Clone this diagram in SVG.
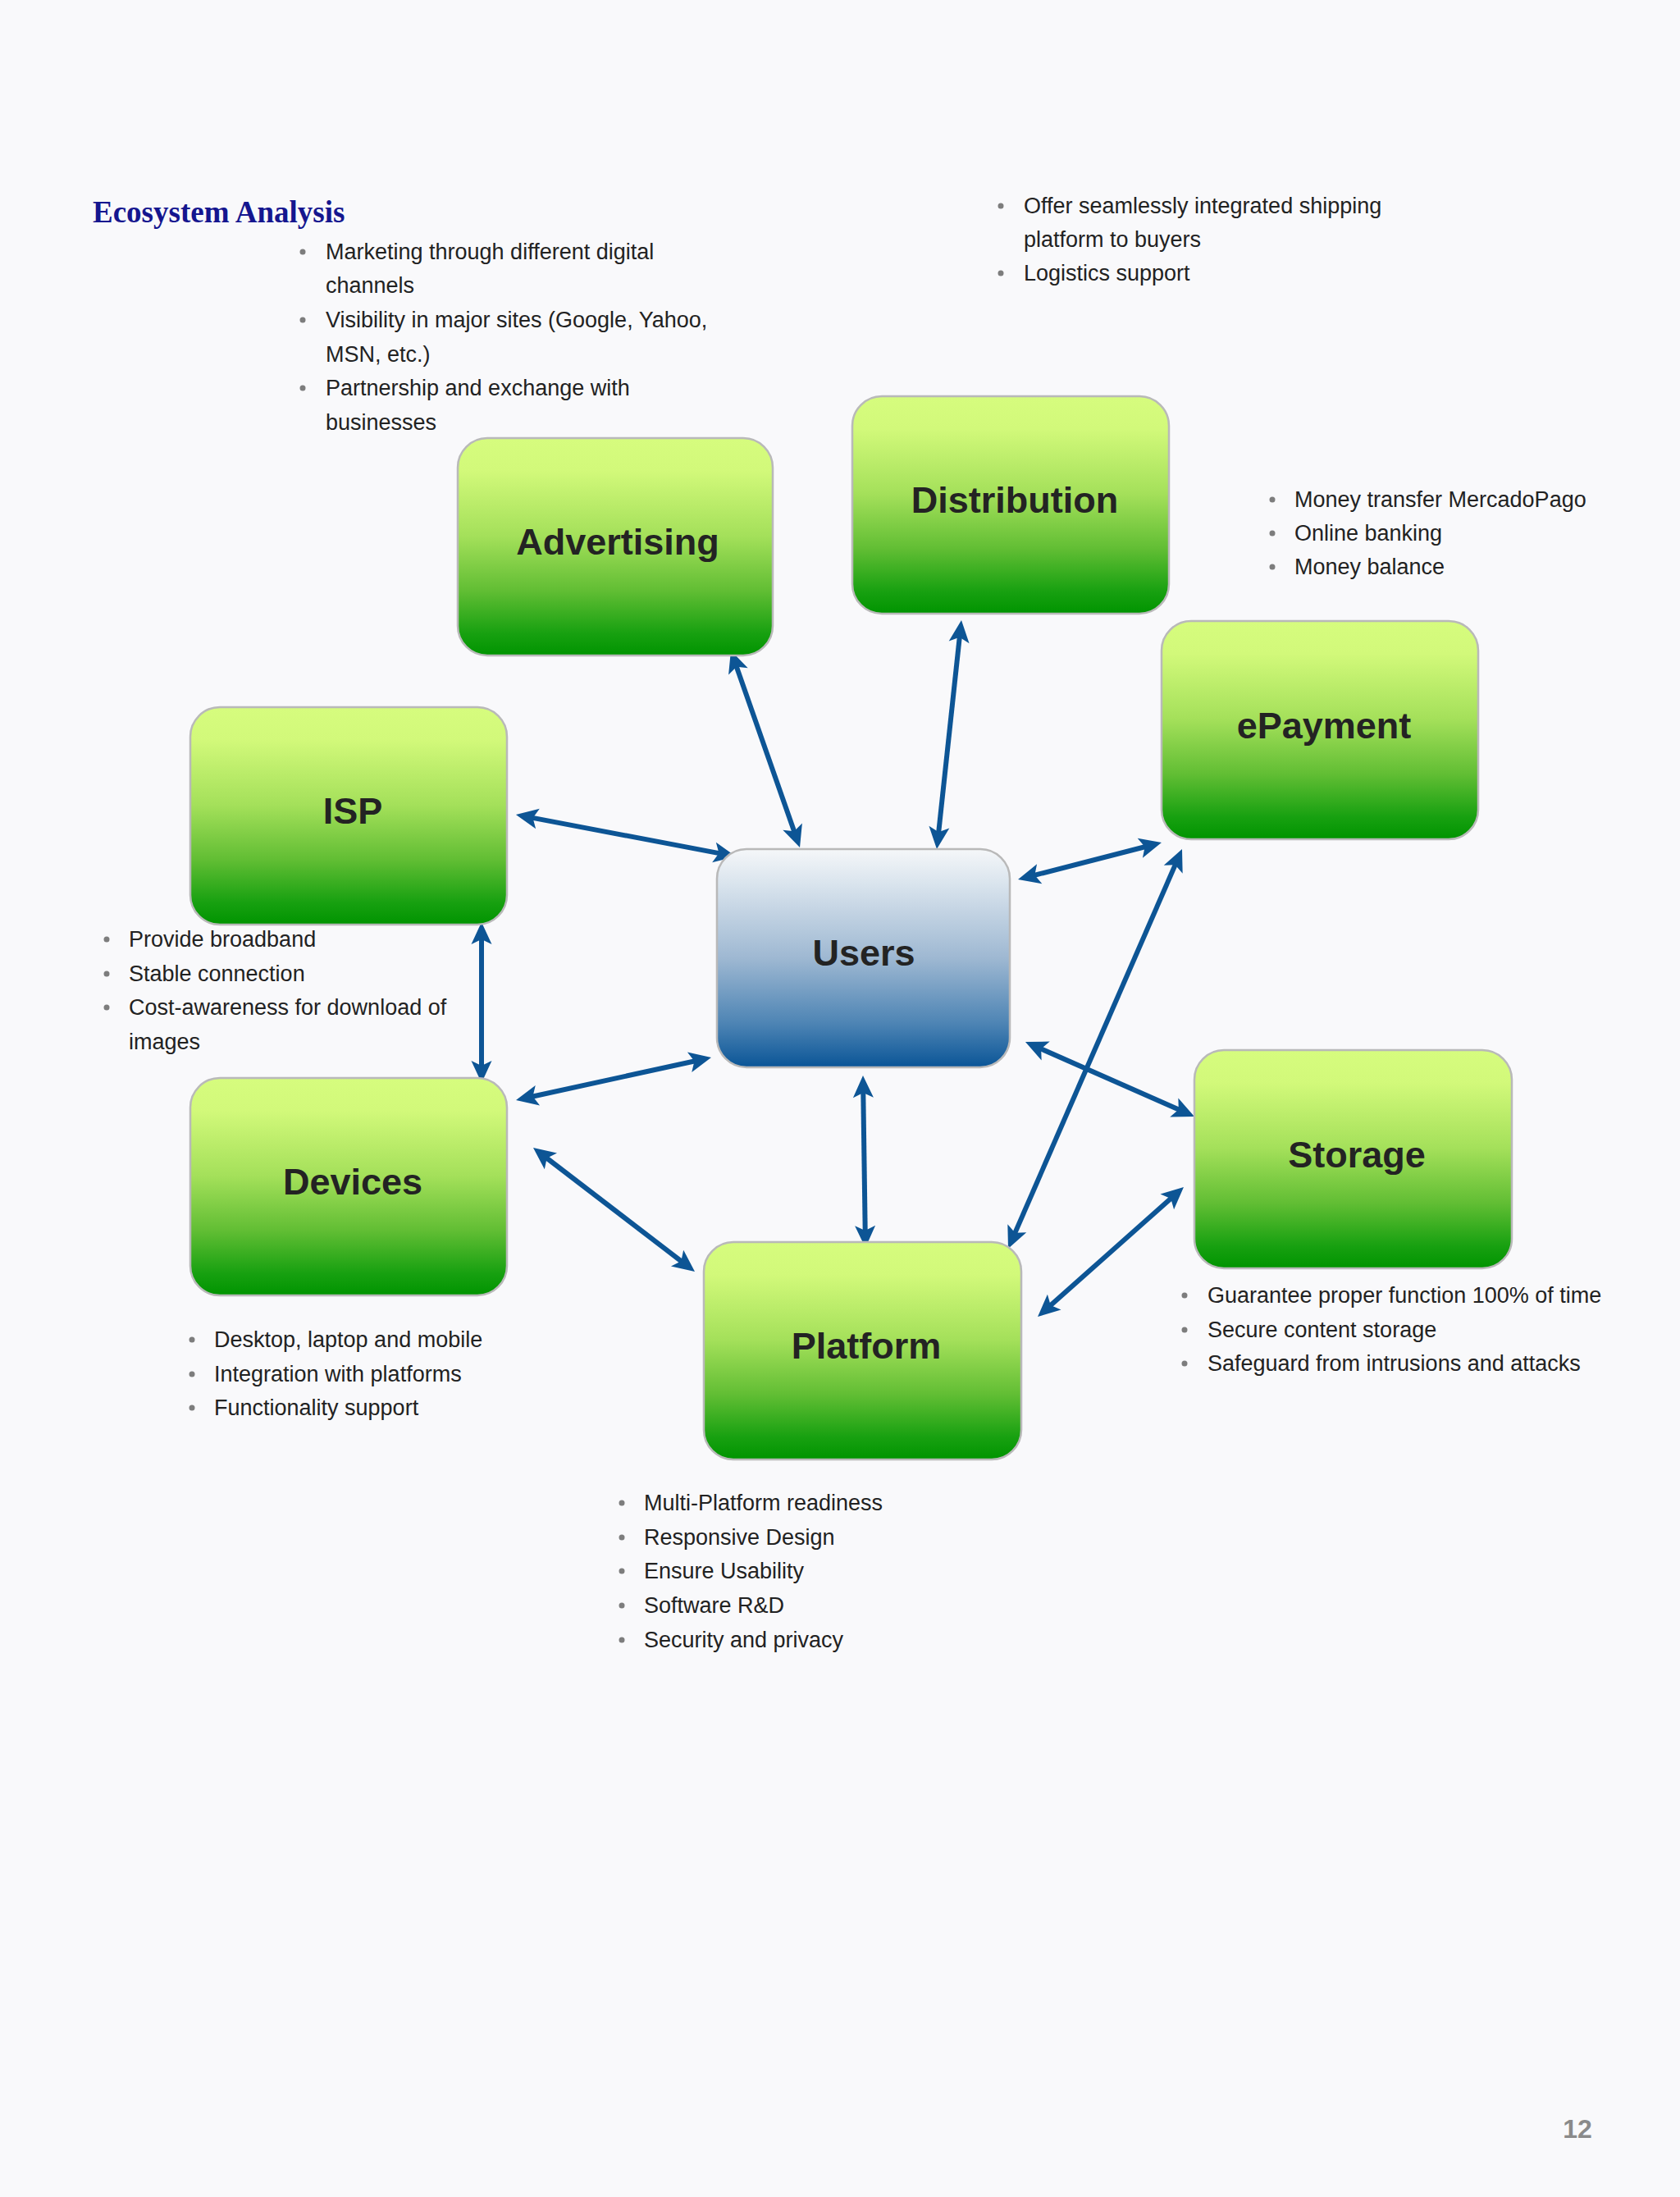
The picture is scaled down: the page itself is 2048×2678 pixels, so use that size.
<svg xmlns="http://www.w3.org/2000/svg" width="2048" height="2678" viewBox="0 0 2048 2678">
<defs>
<linearGradient id="gGreen" x1="0" y1="0" x2="0" y2="1">
<stop offset="0" stop-color="#d6fc7e"/>
<stop offset="0.15" stop-color="#d2f97a"/>
<stop offset="0.45" stop-color="#a4e05a"/>
<stop offset="0.7" stop-color="#62be34"/>
<stop offset="0.9" stop-color="#17a010"/>
<stop offset="1" stop-color="#009400"/>
</linearGradient>
<linearGradient id="gBlue" x1="0" y1="0" x2="0" y2="1">
<stop offset="0" stop-color="#f5f7f9"/>
<stop offset="0.15" stop-color="#dbe5ee"/>
<stop offset="0.5" stop-color="#9eb8d2"/>
<stop offset="0.8" stop-color="#4d84b4"/>
<stop offset="1" stop-color="#0a5597"/>
</linearGradient>
<marker id="ah" markerUnits="userSpaceOnUse" orient="auto-start-reverse" refX="-14" refY="0" markerWidth="1" markerHeight="1" overflow="visible">
<path d="M0,0 L-27,-12.5 L-21,0 L-27,12.5 Z" fill="#0d5595"/>
</marker>
<style>
.box{stroke:#b9b9b9;stroke-width:2.5}
.green{fill:url(#gGreen)}
.blue{fill:url(#gBlue)}
.lbl{font-family:"Liberation Sans",Arial,sans-serif;font-weight:bold;font-size:45px;fill:#232323;text-anchor:middle}
.txt{font-family:"Liberation Sans",Arial,sans-serif;font-size:27px;fill:#222222}
.dot{fill:#7d7d7d}
.con line{stroke:#0d5595;stroke-width:6;marker-start:url(#ah);marker-end:url(#ah)}
</style>
</defs>
<rect x="0" y="0" width="2048" height="2678" fill="#f9f9fb"/>
<text x="113" y="271" font-family="'Liberation Serif','Times New Roman',serif" font-weight="bold" font-size="37" fill="#15168f">Ecosystem Analysis</text>

<g id="connectors" class="con">
<line x1="895.6" y1="806.2" x2="970.4" y2="1019.8"/>
<line x1="1170.5" y1="769.9" x2="1143.5" y2="1021.1"/>
<line x1="1254.6" y1="1068.5" x2="1402.4" y2="1030.5"/>
<line x1="1435.4" y1="1047.9" x2="1234.6" y2="1509.1"/>
<line x1="1262.8" y1="1275.7" x2="1443.2" y2="1355.3"/>
<line x1="1052.2" y1="1325" x2="1054.8" y2="1507"/>
<line x1="1432.5" y1="1456.3" x2="1275.5" y2="1595.7"/>
<line x1="642.7" y1="995.6" x2="883.3" y2="1041.4"/>
<line x1="587" y1="1138" x2="587" y2="1306"/>
<line x1="642.7" y1="1338" x2="853.3" y2="1292"/>
<line x1="661.1" y1="1407.5" x2="835.9" y2="1541.5"/>
</g>

<g id="advertising">
<rect class="box green" x="558" y="534" width="384" height="265" rx="36"/>
<text class="lbl" x="753" y="676">Advertising</text>
<circle class="dot" cx="369" cy="307" r="3.5"/>
<circle class="dot" cx="369" cy="390" r="3.5"/>
<circle class="dot" cx="369" cy="473" r="3.5"/>
<text class="txt" x="397" y="316">Marketing through different digital</text>
<text class="txt" x="397" y="357">channels</text>
<text class="txt" x="397" y="399">Visibility in major sites (Google, Yahoo,</text>
<text class="txt" x="397" y="441">MSN, etc.)</text>
<text class="txt" x="397" y="482">Partnership and exchange with</text>
<text class="txt" x="397" y="524">businesses</text>
</g>

<g id="distribution">
<rect class="box green" x="1039" y="483" width="386" height="265" rx="36"/>
<text class="lbl" x="1237" y="625">Distribution</text>
<circle class="dot" cx="1220" cy="251" r="3.5"/>
<circle class="dot" cx="1220" cy="333" r="3.5"/>
<text class="txt" x="1248" y="260">Offer seamlessly integrated shipping</text>
<text class="txt" x="1248" y="301">platform to buyers</text>
<text class="txt" x="1248" y="342">Logistics support</text>
</g>

<g id="epayment">
<rect class="box green" x="1416" y="757" width="386" height="266" rx="36"/>
<text class="lbl" x="1614" y="900">ePayment</text>
<circle class="dot" cx="1551" cy="609" r="3.5"/>
<circle class="dot" cx="1551" cy="650" r="3.5"/>
<circle class="dot" cx="1551" cy="691" r="3.5"/>
<text class="txt" x="1578" y="618">Money transfer MercadoPago</text>
<text class="txt" x="1578" y="659">Online banking</text>
<text class="txt" x="1578" y="700">Money balance</text>
</g>

<g id="isp">
<rect class="box green" x="232" y="862" width="386" height="265" rx="36"/>
<text class="lbl" x="430" y="1004">ISP</text>
<circle class="dot" cx="130" cy="1145" r="3.5"/>
<circle class="dot" cx="130" cy="1187" r="3.5"/>
<circle class="dot" cx="130" cy="1228" r="3.5"/>
<text class="txt" x="157" y="1154">Provide broadband</text>
<text class="txt" x="157" y="1196">Stable connection</text>
<text class="txt" x="157" y="1237">Cost-awareness for download of</text>
<text class="txt" x="157" y="1279">images</text>
</g>

<g id="users">
<rect class="box blue" x="874" y="1035" width="357" height="266" rx="36"/>
<text class="lbl" x="1053" y="1177">Users</text>
</g>

<g id="devices">
<rect class="box green" x="232" y="1314" width="386" height="265" rx="36"/>
<text class="lbl" x="430" y="1456">Devices</text>
<circle class="dot" cx="234" cy="1633" r="3.5"/>
<circle class="dot" cx="234" cy="1675" r="3.5"/>
<circle class="dot" cx="234" cy="1716" r="3.5"/>
<text class="txt" x="261" y="1642">Desktop, laptop and mobile</text>
<text class="txt" x="261" y="1684">Integration with platforms</text>
<text class="txt" x="261" y="1725">Functionality support</text>
</g>

<g id="storage">
<rect class="box green" x="1456" y="1280" width="387" height="266" rx="36"/>
<text class="lbl" x="1654" y="1423">Storage</text>
<circle class="dot" cx="1444" cy="1579" r="3.5"/>
<circle class="dot" cx="1444" cy="1621" r="3.5"/>
<circle class="dot" cx="1444" cy="1662" r="3.5"/>
<text class="txt" x="1472" y="1588">Guarantee proper function 100% of time</text>
<text class="txt" x="1472" y="1630">Secure content storage</text>
<text class="txt" x="1472" y="1671">Safeguard from intrusions and attacks</text>
</g>

<g id="platform">
<rect class="box green" x="858" y="1514" width="387" height="265" rx="36"/>
<text class="lbl" x="1056" y="1656">Platform</text>
<circle class="dot" cx="758" cy="1832" r="3.5"/>
<circle class="dot" cx="758" cy="1874" r="3.5"/>
<circle class="dot" cx="758" cy="1915" r="3.5"/>
<circle class="dot" cx="758" cy="1957" r="3.5"/>
<circle class="dot" cx="758" cy="1999" r="3.5"/>
<text class="txt" x="785" y="1841">Multi-Platform readiness</text>
<text class="txt" x="785" y="1883">Responsive Design</text>
<text class="txt" x="785" y="1924">Ensure Usability</text>
<text class="txt" x="785" y="1966">Software R&amp;D</text>
<text class="txt" x="785" y="2008">Security and privacy</text>
</g>

<text x="1923" y="2606" font-family="'Liberation Sans',Arial,sans-serif" font-weight="bold" font-size="32" fill="#8a8a8a" text-anchor="middle">12</text>
</svg>
